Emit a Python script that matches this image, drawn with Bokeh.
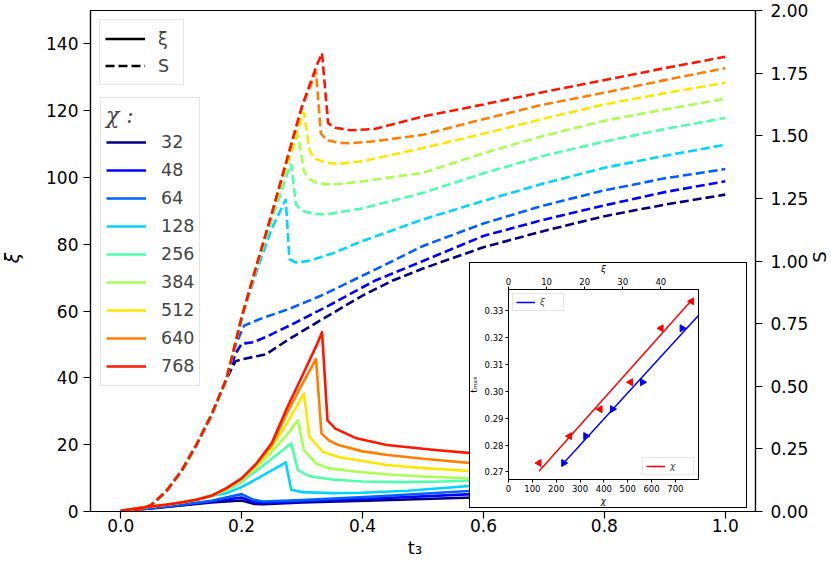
import math
from bokeh.plotting import figure
from bokeh.models import (Range1d, LinearAxis, FixedTicker, PrintfTickFormatter,
                          Legend, LegendItem, Div)
from bokeh.layouts import column
from bokeh.embed import file_html
from bokeh.resources import INLINE

FONT = "DejaVu Sans"

# ---------------- data ----------------
chi_values = [32, 48, 64, 128, 256, 384, 512, 640, 768]
chi_colors = ["#000080", "#0000ff", "#0060ff", "#00d4ff", "#4dffaa",
              "#a7ff50", "#ffe600", "#ff7e00", "#ff1600"]

x_ticks = [0.0, 0.2, 0.4, 0.6, 0.8, 1.0]
xi_ticks_main = [0, 20, 40, 60, 80, 100, 120, 140]
S_ticks = [0.0, 0.25, 0.5, 0.75, 1.0, 1.25, 1.5, 1.75, 2.0]

# entropy S (dashed, right axis): common early rise
t_S_rise = [0, 0.025, 0.05, 0.075, 0.1, 0.125, 0.15, 0.175]
S_rise = [0, 0.004, 0.025, 0.08, 0.16, 0.265, 0.385, 0.53]

t_S_32 = [0.19, 0.2, 0.225, 0.24, 0.275, 0.335, 0.4, 0.45, 0.5, 0.6, 0.7, 0.8, 0.9, 1.0]
S_32 = [0.60, 0.607, 0.62, 0.627, 0.683, 0.77, 0.862, 0.922, 0.97, 1.055, 1.12, 1.179, 1.225, 1.265]
t_S_48 = [0.19, 0.2, 0.22, 0.245, 0.29, 0.344, 0.42, 0.5, 0.6, 0.7, 0.8, 0.9, 1.0]
S_48 = [0.63, 0.67, 0.676, 0.702, 0.755, 0.822, 0.921, 1.0, 1.1, 1.165, 1.222, 1.275, 1.318]
t_S_64 = [0.19, 0.204, 0.23, 0.28, 0.33, 0.38, 0.45, 0.5, 0.6, 0.7, 0.8, 0.9, 1.0]
S_64 = [0.665, 0.742, 0.768, 0.81, 0.86, 0.918, 1.0, 1.06, 1.15, 1.222, 1.282, 1.33, 1.367]
t_S_128 = [0.2, 0.225, 0.25, 0.273, 0.279, 0.29, 0.31, 0.35, 0.4, 0.5, 0.6, 0.7, 0.8, 0.9, 1.0]
S_128 = [0.77, 0.96, 1.13, 1.246, 1.007, 0.994, 1.0, 1.03, 1.08, 1.166, 1.24, 1.31, 1.372, 1.42, 1.464]
t_S_256 = [0.2, 0.225, 0.25, 0.275, 0.282, 0.29, 0.3, 0.32, 0.34, 0.4, 0.5, 0.6, 0.7, 0.8, 0.9, 1.0]
S_256 = [0.775, 0.975, 1.165, 1.345, 1.388, 1.225, 1.2, 1.188, 1.186, 1.21, 1.272, 1.35, 1.42, 1.477, 1.527, 1.571]
t_S_384 = [0.2, 0.225, 0.25, 0.275, 0.293, 0.303, 0.31, 0.325, 0.35, 0.4, 0.5, 0.6, 0.7, 0.8, 0.9, 1.0]
S_384 = [0.775, 0.985, 1.18, 1.38, 1.505, 1.36, 1.33, 1.31, 1.305, 1.318, 1.352, 1.43, 1.50, 1.56, 1.605, 1.648]
t_S_512 = [0.2, 0.225, 0.25, 0.275, 0.3, 0.303, 0.312, 0.32, 0.34, 0.36, 0.4, 0.5, 0.6, 0.7, 0.8, 0.9, 1.0]
S_512 = [0.775, 0.985, 1.185, 1.395, 1.575, 1.595, 1.445, 1.41, 1.392, 1.388, 1.398, 1.451, 1.508, 1.568, 1.625, 1.67, 1.712]
t_S_640 = [0.2, 0.225, 0.25, 0.275, 0.3, 0.323, 0.331, 0.34, 0.36, 0.38, 0.42, 0.5, 0.6, 0.7, 0.8, 0.9, 1.0]
S_640 = [0.775, 0.985, 1.19, 1.405, 1.615, 1.756, 1.51, 1.483, 1.472, 1.47, 1.478, 1.504, 1.566, 1.625, 1.672, 1.722, 1.77]
t_S_768 = [0.19, 0.2, 0.225, 0.25, 0.275, 0.3, 0.325, 0.333, 0.343, 0.355, 0.38, 0.42, 0.5, 0.6, 0.7, 0.8, 0.9, 1.0]
S_768 = [0.675, 0.775, 0.985, 1.19, 1.405, 1.62, 1.785, 1.83, 1.55, 1.532, 1.522, 1.527, 1.577, 1.625, 1.675, 1.722, 1.77, 1.815]

# correlation length xi (solid, left axis)
t_xi_low = [0, 0.05, 0.1, 0.15, 0.2, 0.22, 0.236, 0.3, 0.42, 0.583, 0.7, 0.8, 0.9, 1.0]
xi_32 = [0.2, 0.9, 1.8, 2.7, 3.3, 2.3, 2.2, 2.7, 3.3, 4.2, 4.7, 5.1, 5.5, 5.8]
xi_48 = [0.2, 1.0, 1.9, 3.0, 4.2, 2.8, 2.5, 3.0, 3.9, 5.2, 5.9, 6.4, 6.9, 7.3]
xi_64 = [0.2, 1.0, 2.0, 3.2, 5.2, 3.5, 3.0, 3.4, 4.5, 6.2, 7.1, 7.8, 8.4, 8.9]

t_xi_rise = [0, 0.025, 0.05, 0.075, 0.1, 0.125, 0.15]
xi_rise = [0.2, 0.9, 1.5, 2.0, 2.7, 3.5, 4.7]

t_xi_128 = [0.175, 0.2, 0.225, 0.25, 0.273, 0.282, 0.3, 0.35, 0.4, 0.474, 0.583, 0.7, 0.8, 0.9, 1.0]
xi_128 = [5.5, 7.3, 9.8, 12.3, 14.7, 6.5, 5.8, 5.5, 5.6, 6.2, 7.7, 9.0, 9.8, 10.5, 11.1]
t_xi_256 = [0.175, 0.2, 0.225, 0.25, 0.282, 0.293, 0.312, 0.35, 0.4, 0.47, 0.53, 0.583, 0.7, 0.8, 0.9, 1.0]
xi_256 = [6.2, 8.9, 12.3, 15.8, 20.4, 12.4, 10.6, 9.6, 9.0, 8.8, 9.0, 9.3, 10.0, 10.5, 11.0, 11.4]
t_xi_384 = [0.175, 0.2, 0.225, 0.25, 0.275, 0.293, 0.303, 0.323, 0.344, 0.39, 0.45, 0.5, 0.583, 0.7, 0.8, 0.9, 1.0]
xi_384 = [6.6, 9.4, 13.3, 18.0, 23.0, 27.3, 18.4, 14.4, 12.9, 11.9, 11.0, 10.5, 9.9, 9.4, 9.1, 8.9, 8.7]
t_xi_512 = [0.175, 0.2, 0.225, 0.25, 0.275, 0.303, 0.312, 0.334, 0.36, 0.39, 0.44, 0.5, 0.583, 0.7, 0.8, 0.9, 1.0]
xi_512 = [6.8, 9.7, 14.0, 19.3, 26.5, 35.3, 22.4, 17.9, 16.3, 15.4, 13.9, 13.0, 12.1, 11.2, 10.6, 10.2, 9.9]
t_xi_640 = [0.175, 0.2, 0.225, 0.25, 0.275, 0.3, 0.323, 0.332, 0.345, 0.36, 0.4, 0.442, 0.5, 0.585, 0.7, 0.8, 0.9, 1.0]
xi_640 = [6.9, 9.8, 14.3, 20.0, 29.5, 38.0, 45.7, 23.4, 21.2, 19.9, 18.0, 16.9, 15.8, 14.4, 13.3, 12.6, 12.1, 11.7]
t_xi_768 = [0.175, 0.2, 0.225, 0.25, 0.275, 0.3, 0.325, 0.333, 0.342, 0.355, 0.39, 0.44, 0.52, 0.585, 0.7, 0.8, 0.9, 1.0]
xi_768 = [7.0, 9.9, 14.5, 20.5, 31.0, 40.5, 50.2, 53.7, 27.3, 24.8, 21.9, 19.9, 18.4, 17.4, 16.2, 15.5, 15.0, 14.6]

# inset: time of the maximum vs chi and vs xi
inset_chi = [128, 256, 384, 512, 640, 768]
inset_xi = [14.5, 20.3, 27.3, 35.2, 45.6, 53.7]
inset_tmax = [0.2733, 0.2833, 0.2933, 0.3033, 0.3233, 0.3333]
fit_chi = [128, 768]
fit_t_chi = [0.2703, 0.3337]
fit_xi = [14.5, 53.7]
fit_t_xi = [0.2733, 0.3340]
inset_chi_ticks = [0, 100, 200, 300, 400, 500, 600, 700]
inset_xi_ticks = [0, 10, 20, 30, 40]
inset_t_ticks = [0.27, 0.28, 0.29, 0.30, 0.31, 0.32, 0.33]

# ---------------- assemble series ----------------
S_t_tails = [t_S_32, t_S_48, t_S_64, t_S_128, t_S_256, t_S_384, t_S_512, t_S_640, t_S_768]
S_tails = [S_32, S_48, S_64, S_128, S_256, S_384, S_512, S_640, S_768]
xi_t_series = [t_xi_low, t_xi_low, t_xi_low,
               t_xi_rise + t_xi_128, t_xi_rise + t_xi_256, t_xi_rise + t_xi_384,
               t_xi_rise + t_xi_512, t_xi_rise + t_xi_640, t_xi_rise + t_xi_768]
xi_series = [xi_32, xi_48, xi_64,
             xi_rise + xi_128, xi_rise + xi_256, xi_rise + xi_384,
             xi_rise + xi_512, xi_rise + xi_640, xi_rise + xi_768]


def style_axis(ax, tick_size, label_size, tick_out, lab_so, axlab_so, lw=1.2):
    ax.axis_line_color = "black"
    ax.axis_line_width = lw
    ax.major_tick_line_color = "black"
    ax.major_tick_line_width = lw
    ax.major_tick_in = 0
    ax.major_tick_out = tick_out
    ax.minor_tick_line_color = None
    ax.major_label_text_font = FONT
    ax.major_label_text_font_size = tick_size
    ax.major_label_text_color = "black"
    ax.axis_label_text_font = FONT
    ax.axis_label_text_font_size = label_size
    ax.axis_label_text_font_style = "normal"
    ax.axis_label_text_color = "black"
    ax.major_label_standoff = lab_so
    ax.axis_label_standoff = axlab_so


def title_div(text, cx, cy, w, h, size, rotate=False, italic=False):
    st = {"position": "absolute", "left": f"{cx - w / 2:.0f}px", "top": f"{cy - h / 2:.0f}px",
          "font-family": FONT, "font-size": size, "line-height": f"{h}px",
          "text-align": "center", "color": "black", "z-index": "4",
          "font-style": "italic" if italic else "normal"}
    if rotate:
        st["transform"] = "rotate(-90deg)"
    return Div(text=text, width=w, height=h, margin=0, styles=st)


# ---------------- main figure ----------------
p = figure(width=815, height=550, x_range=Range1d(-0.05, 1.05), y_range=Range1d(0, 150),
           output_backend="svg", toolbar_location=None,
           min_border_left=56, min_border_right=60, min_border_top=10, min_border_bottom=39,
           background_fill_color="white", border_fill_color="white",
           outline_line_color="black", outline_line_width=1.2)
p.xgrid.visible = False
p.ygrid.visible = False
p.extra_y_ranges = {"S": Range1d(0, 2)}

p.xaxis.ticker = FixedTicker(ticks=x_ticks)
p.xaxis.formatter = PrintfTickFormatter(format="%.1f")
p.yaxis.ticker = FixedTicker(ticks=xi_ticks_main)
for ax in p.xaxis:
    style_axis(ax, "17px", "18px", 7, 0, 0)
for ax in p.yaxis:
    style_axis(ax, "17px", "18px", 7, 5, 0)

right_axis = LinearAxis(y_range_name="S", ticker=FixedTicker(ticks=S_ticks),
                        formatter=PrintfTickFormatter(format="%.2f"))
style_axis(right_axis, "17px", "18px", 7, 8, 0)
p.add_layout(right_axis, "right")

solid_renderers = []
for c, col, tx, yx, ts, ys in zip(chi_values, chi_colors, xi_t_series, xi_series,
                                   S_t_tails, S_tails):
    r = p.line(tx, yx, line_color=col, line_width=2.6, line_join="round")
    solid_renderers.append(r)
    p.line(t_S_rise + ts, S_rise + ys, line_color=col, line_width=2.6,
           line_dash="9 4", y_range_name="S")

# legend keys (hidden renderers, shown only in the legend)
key_solid = p.line(xi_t_series[-1], xi_series[-1], line_color="black", line_width=2.6,
                   visible=False)
key_dash = p.line(t_S_rise + t_S_768, S_rise + S_768, line_color="black", line_width=2.6,
                  line_dash="9 4", y_range_name="S", visible=False)

leg1 = Legend(items=[LegendItem(label="ξ", renderers=[key_solid]),
                     LegendItem(label="S", renderers=[key_dash])],
              location="top_left", margin=9, padding=5, spacing=0,
              glyph_width=40, glyph_height=27, label_height=27, label_standoff=13,
              label_text_font=FONT, label_text_font_size="17.5px",
              border_line_color="#cccccc", border_line_width=1,
              background_fill_alpha=0.85)
p.add_layout(leg1, "center")

leg2 = Legend(items=[LegendItem(label=str(c), renderers=[r])
                     for c, r in zip(chi_values, solid_renderers)],
              title="χ :", location=(10, 125), padding=5, spacing=0,
              glyph_width=40, glyph_height=28, label_height=28, label_standoff=15,
              label_text_font=FONT, label_text_font_size="17.5px",
              title_text_font="DejaVu Serif", title_text_font_style="italic",
              title_text_font_size="22px", title_standoff=0,
              border_line_color="#cccccc", border_line_width=1,
              background_fill_alpha=0.85)
p.add_layout(leg2, "center")

# axis titles of the main plot
t_title = title_div("t₃", 415, 548, 30, 22, "18px")
xi_title = title_div("ξ", 12, 258, 20, 30, "19px", rotate=True, italic=True)
S_title = title_div("S", 820, 257, 20, 30, "18px", rotate=True)

# ---------------- inset box (white panel with black frame) ----------------
box = Div(text="", width=276, height=244, margin=0,
          styles={"position": "absolute", "left": "470px", "top": "263px",
                  "background-color": "white", "outline": "1.5px solid black",
                  "z-index": "2"})

# ---------------- inset ----------------
ins = figure(width=340, height=270, x_range=Range1d(0, 797), y_range=Range1d(0.2672, 0.3377),
             output_backend="svg", toolbar_location=None,
             min_border_left=90, min_border_right=12, min_border_top=40, min_border_bottom=40,
             background_fill_color="white", border_fill_alpha=0.0,
             outline_line_color="black", outline_line_width=1)
ins.xgrid.visible = False
ins.ygrid.visible = False
ins.extra_x_ranges = {"xi": Range1d(0, 49.9)}
ins.xaxis.ticker = FixedTicker(ticks=inset_chi_ticks)
ins.xaxis.axis_label = "χ"
ins.yaxis.ticker = FixedTicker(ticks=inset_t_ticks)
ins.yaxis.formatter = PrintfTickFormatter(format="%.2f")
ins.yaxis.axis_label = "tₘₐₓ"
for ax in ins.xaxis:
    style_axis(ax, "8.5px", "9px", 3, 2, 1, lw=1)
    ax.axis_label_text_font_style = "italic"
for ax in ins.yaxis:
    style_axis(ax, "8.5px", "9px", 3, 2, 3, lw=1)
top_axis = LinearAxis(x_range_name="xi", axis_label="ξ",
                      ticker=FixedTicker(ticks=inset_xi_ticks))
style_axis(top_axis, "8.5px", "9px", 3, 2, 1, lw=1)
top_axis.axis_label_text_font_style = "italic"
ins.add_layout(top_axis, "above")

lr = ins.line(fit_chi, fit_t_chi, line_color="red", line_width=1.5)
lb = ins.line(fit_xi, fit_t_xi, line_color="blue", line_width=1.5, x_range_name="xi")
ins.scatter(inset_chi, inset_tmax, marker="triangle", angle=math.pi / 2, size=7,
            fill_color="red", line_color="red")
ins.scatter(inset_xi, inset_tmax, marker="triangle", angle=-math.pi / 2, size=7,
            fill_color="blue", line_color="blue", x_range_name="xi")

for lab, rend, loc in [("ξ", lb, "top_left"), ("χ", lr, "bottom_right")]:
    lg = Legend(items=[LegendItem(label=lab, renderers=[rend])], location=loc,
                margin=4, padding=3, spacing=0, glyph_width=19, glyph_height=10,
                label_height=10, label_standoff=5, label_text_font=FONT,
                label_text_font_size="9px", label_text_font_style="italic",
                border_line_color="#cccccc", border_line_width=1)
    ins.add_layout(lg, "center")

# frame of the inset lands on x 508..746, y 289..479 of the page
ins.styles = {"position": "absolute", "left": "418px", "top": "249px", "z-index": "3"}

layout = column(p, box, ins, t_title, xi_title, S_title)

open("out.html", "w").write(file_html(layout, INLINE))
